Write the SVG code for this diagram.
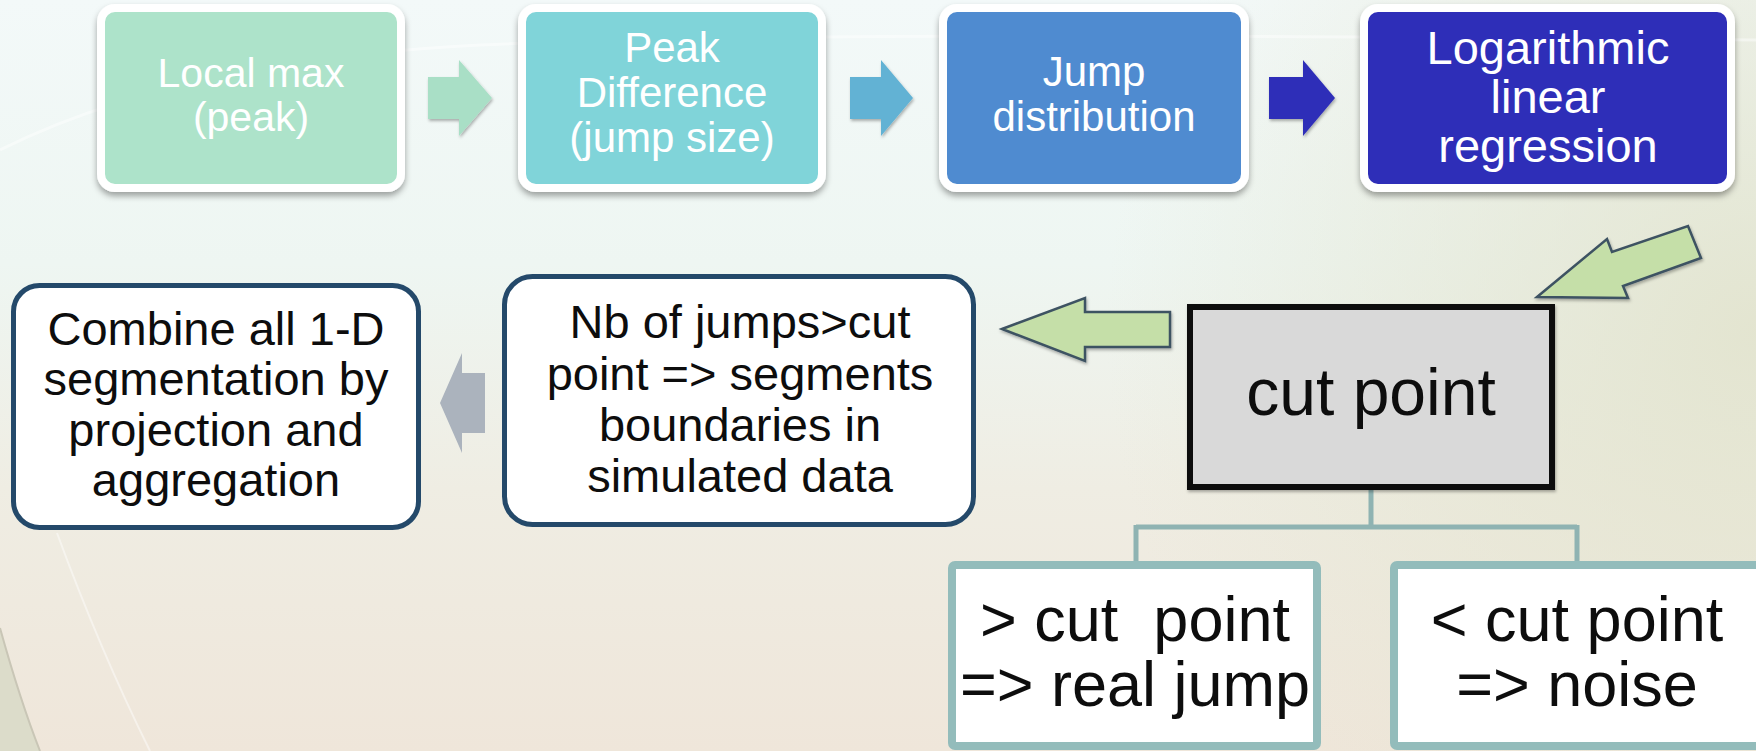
<svg xmlns="http://www.w3.org/2000/svg" width="1756" height="751" viewBox="0 0 1756 751">
<defs>
<linearGradient id="bg" x1="0" y1="0" x2="0" y2="1">
 <stop offset="0" stop-color="#f3f9f9"/>
 <stop offset="0.35" stop-color="#eef6f2"/>
 <stop offset="0.65" stop-color="#efede3"/>
 <stop offset="1" stop-color="#efe6da"/>
</linearGradient>
<radialGradient id="tint" cx="1756" cy="330" r="650" gradientUnits="userSpaceOnUse">
 <stop offset="0" stop-color="#e2e3cd" stop-opacity="0.9"/>
 <stop offset="1" stop-color="#e2e3cd" stop-opacity="0"/>
</radialGradient>
<filter id="sh" x="-10%" y="-10%" width="120%" height="130%">
 <feDropShadow dx="0" dy="4" stdDeviation="3" flood-color="#000" flood-opacity="0.35"/>
</filter>
<filter id="sh2" x="-10%" y="-10%" width="120%" height="130%">
 <feDropShadow dx="1" dy="2" stdDeviation="1.5" flood-color="#000" flood-opacity="0.3"/>
</filter>
<style>
 .t { font-family: 'Liberation Sans', Arial, sans-serif; text-anchor: middle; }
 .w { fill: #ffffff; }
 .k { fill: #0d0d0d; }
 .top { stroke: #ffffff; stroke-width: 8; filter: url(#sh); }
 .navy { fill: #ffffff; stroke: #24496a; stroke-width: 5; }
 .teal { fill: #ffffff; stroke: #93bcbb; stroke-width: 8; }
 .conn { fill: none; stroke: #8fb3b2; stroke-width: 5; }
 .garrow { fill: #c5dfa8; stroke: #3e5262; stroke-width: 2.5; filter: url(#sh2); }
</style>
</defs>

<!-- background -->
<rect x="0" y="0" width="1756" height="751" fill="url(#bg)"/>
<rect x="0" y="0" width="1756" height="751" fill="url(#tint)"/>
<path d="M0,150 Q180,60 480,45 T1756,40" fill="none" stroke="#ffffff" stroke-opacity="0.45" stroke-width="3"/>
<path d="M0,628 Q20,700 40,751 L0,751 Z" fill="#dcdcca"/>
<path d="M0,628 Q20,700 40,751" fill="none" stroke="#c9c6b6" stroke-width="2"/>
<path d="M57,533 Q100,650 150,751" fill="none" stroke="#ffffff" stroke-opacity="0.45" stroke-width="2"/>

<!-- connectors -->
<g id="connectors">
 <polygon points="428,77 459,77 459,60 492,98 459,136 459,119 428,119" fill="#a9dfc6" filter="url(#sh2)"/>
 <polygon points="850,77 881,77 881,60 913,98 881,136 881,119 850,119" fill="#62b2d4" filter="url(#sh2)"/>
 <polygon points="1269,77 1303,77 1303,60 1335,98 1303,136 1303,119 1269,119" fill="#2e2eb8" filter="url(#sh2)"/>
 <polygon class="garrow" points="1537,297 1607,239 1612,252 1688,226 1701,258 1623,286 1628,298"/>
 <polygon class="garrow" points="1002,329 1085,298 1085,312 1170,312 1170,347 1085,347 1085,361"/>
 <polygon points="440,403 462,353 462,373 485,373 485,433 462,433 462,453" fill="#abb3bd"/>
 <path class="conn" d="M1371,490 V527 M1136,527 H1577 M1136,525 V562 M1577,525 V562"/>
</g>

<!-- top row -->
<g id="node-local-max">
 <rect class="top" x="101" y="8" width="300" height="180" rx="14" fill="#ade3ca"/>
 <text class="t w" font-size="41"><tspan x="251" y="87">Local max</tspan><tspan x="251" y="131">(peak)</tspan></text>
</g>
<g id="node-peak-difference">
 <rect class="top" x="522" y="8" width="300" height="180" rx="14" fill="#80d4d9"/>
 <text class="t w" font-size="42"><tspan x="672" y="62">Peak</tspan><tspan x="672" y="107">Difference</tspan><tspan x="672" y="152">(jump size)</tspan></text>
</g>
<g id="node-jump-distribution">
 <rect class="top" x="943" y="8" width="302" height="180" rx="14" fill="#4f8bd0"/>
 <text class="t w" font-size="42"><tspan x="1094" y="86">Jump</tspan><tspan x="1094" y="131">distribution</tspan></text>
</g>
<g id="node-log-regression">
 <rect class="top" x="1364" y="8" width="367" height="180" rx="14" fill="#2f2db8"/>
 <text class="t w" font-size="47"><tspan x="1548" y="64">Logarithmic</tspan><tspan x="1548" y="113">linear</tspan><tspan x="1548" y="162">regression</tspan></text>
</g>

<!-- second row -->
<g id="node-combine">
 <rect class="navy" x="13.5" y="285.5" width="405" height="242" rx="26"/>
 <text class="t k" font-size="47"><tspan x="216" y="345">Combine all 1-D</tspan><tspan x="216" y="395">segmentation by</tspan><tspan x="216" y="446">projection and</tspan><tspan x="216" y="496">aggregation</tspan></text>
</g>
<g id="node-nb-jumps">
 <rect class="navy" x="504.5" y="276.5" width="469" height="248" rx="28"/>
 <text class="t k" font-size="47"><tspan x="740" y="338">Nb of jumps&gt;cut</tspan><tspan x="740" y="390">point =&gt; segments</tspan><tspan x="740" y="441">boundaries in</tspan><tspan x="740" y="492">simulated data</tspan></text>
</g>
<g id="node-cut-point">
 <rect x="1190" y="307" width="362" height="180" fill="#d9d9d9" stroke="#111111" stroke-width="6" filter="url(#sh2)"/>
 <text class="t k" x="1371" y="415" font-size="66">cut point</text>
</g>

<!-- bottom row -->
<g id="node-real-jump">
 <rect class="teal" x="952" y="565" width="365" height="181" rx="3"/>
 <text class="t k" font-size="63"><tspan x="1135" y="641">&gt; cut&#160; point</tspan><tspan x="1135" y="706">=&gt; real jump</tspan></text>
</g>
<g id="node-noise">
 <rect class="teal" x="1394" y="565" width="366" height="181" rx="3"/>
 <text class="t k" font-size="63"><tspan x="1577" y="641">&lt; cut point</tspan><tspan x="1577" y="706">=&gt; noise</tspan></text>
</g>
</svg>
